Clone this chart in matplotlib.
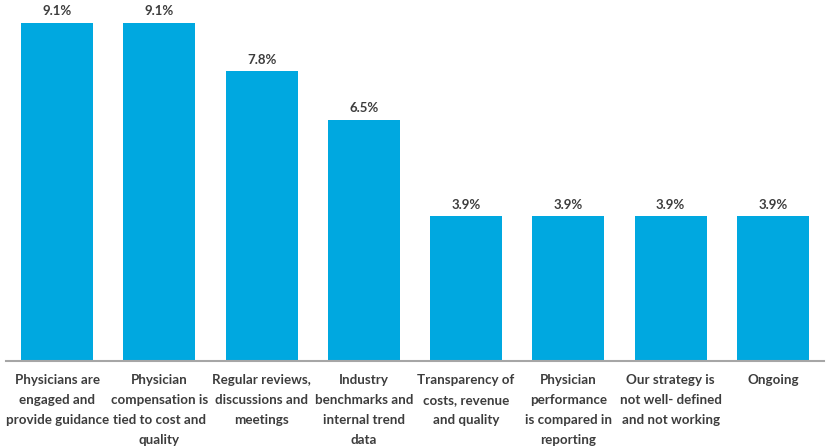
import numpy as np
import matplotlib.pyplot as plt

plt.rcParams['font.family'] = ['Lato', 'DejaVu Sans']

categories = [
    'Physicians are\nengaged and\nprovide guidance',
    'Physician\ncompensation is\ntied to cost and\nquality',
    'Regular reviews,\ndiscussions and\nmeetings',
    'Industry\nbenchmarks and\ninternal trend\ndata',
    'Transparency of\ncosts, revenue\nand quality',
    'Physician\nperformance\nis compared in\nreporting',
    'Our strategy is\nnot well- defined\nand not working',
    'Ongoing',
]
values = [9.1, 9.1, 7.8, 6.5, 3.9, 3.9, 3.9, 3.9]
value_labels = ['9.1%', '9.1%', '7.8%', '6.5%', '3.9%', '3.9%', '3.9%', '3.9%']

bar_color = '#00A8E0'
text_color = '#3d3d3d'

fig = plt.figure(figsize=(8.32, 4.48), dpi=100)
# axes from x=6..824 px, y=23..361 px (from top)
ax = fig.add_axes([6/832, (448-361)/448, 818/832, 338/448])

x = np.arange(len(values))
ax.bar(x, values, width=0.705, color=bar_color, zorder=2)

for xi, v, lab in zip(x, values, value_labels):
    ax.annotate(lab, (xi, v), xytext=(0, 4), textcoords='offset points',
                ha='center', va='bottom', fontsize=9.5, fontweight='bold',
                color=text_color, annotation_clip=False)

for xi, cat in zip(x, categories):
    ax.annotate(cat, (xi, 0), xytext=(0, -9.5), textcoords='offset points',
                ha='center', va='top', fontsize=9.6, fontweight='bold',
                color=text_color, linespacing=1.78, annotation_clip=False)

ax.set_xlim(-0.5, 7.5)
ax.set_ylim(0, 9.1)
ax.set_xticks([])
ax.set_yticks([])
for s in ['top', 'right', 'left']:
    ax.spines[s].set_visible(False)
ax.spines['bottom'].set_color('#a6a6a6')
ax.spines['bottom'].set_linewidth(1.5)

fig.savefig('out.png', dpi=100)
